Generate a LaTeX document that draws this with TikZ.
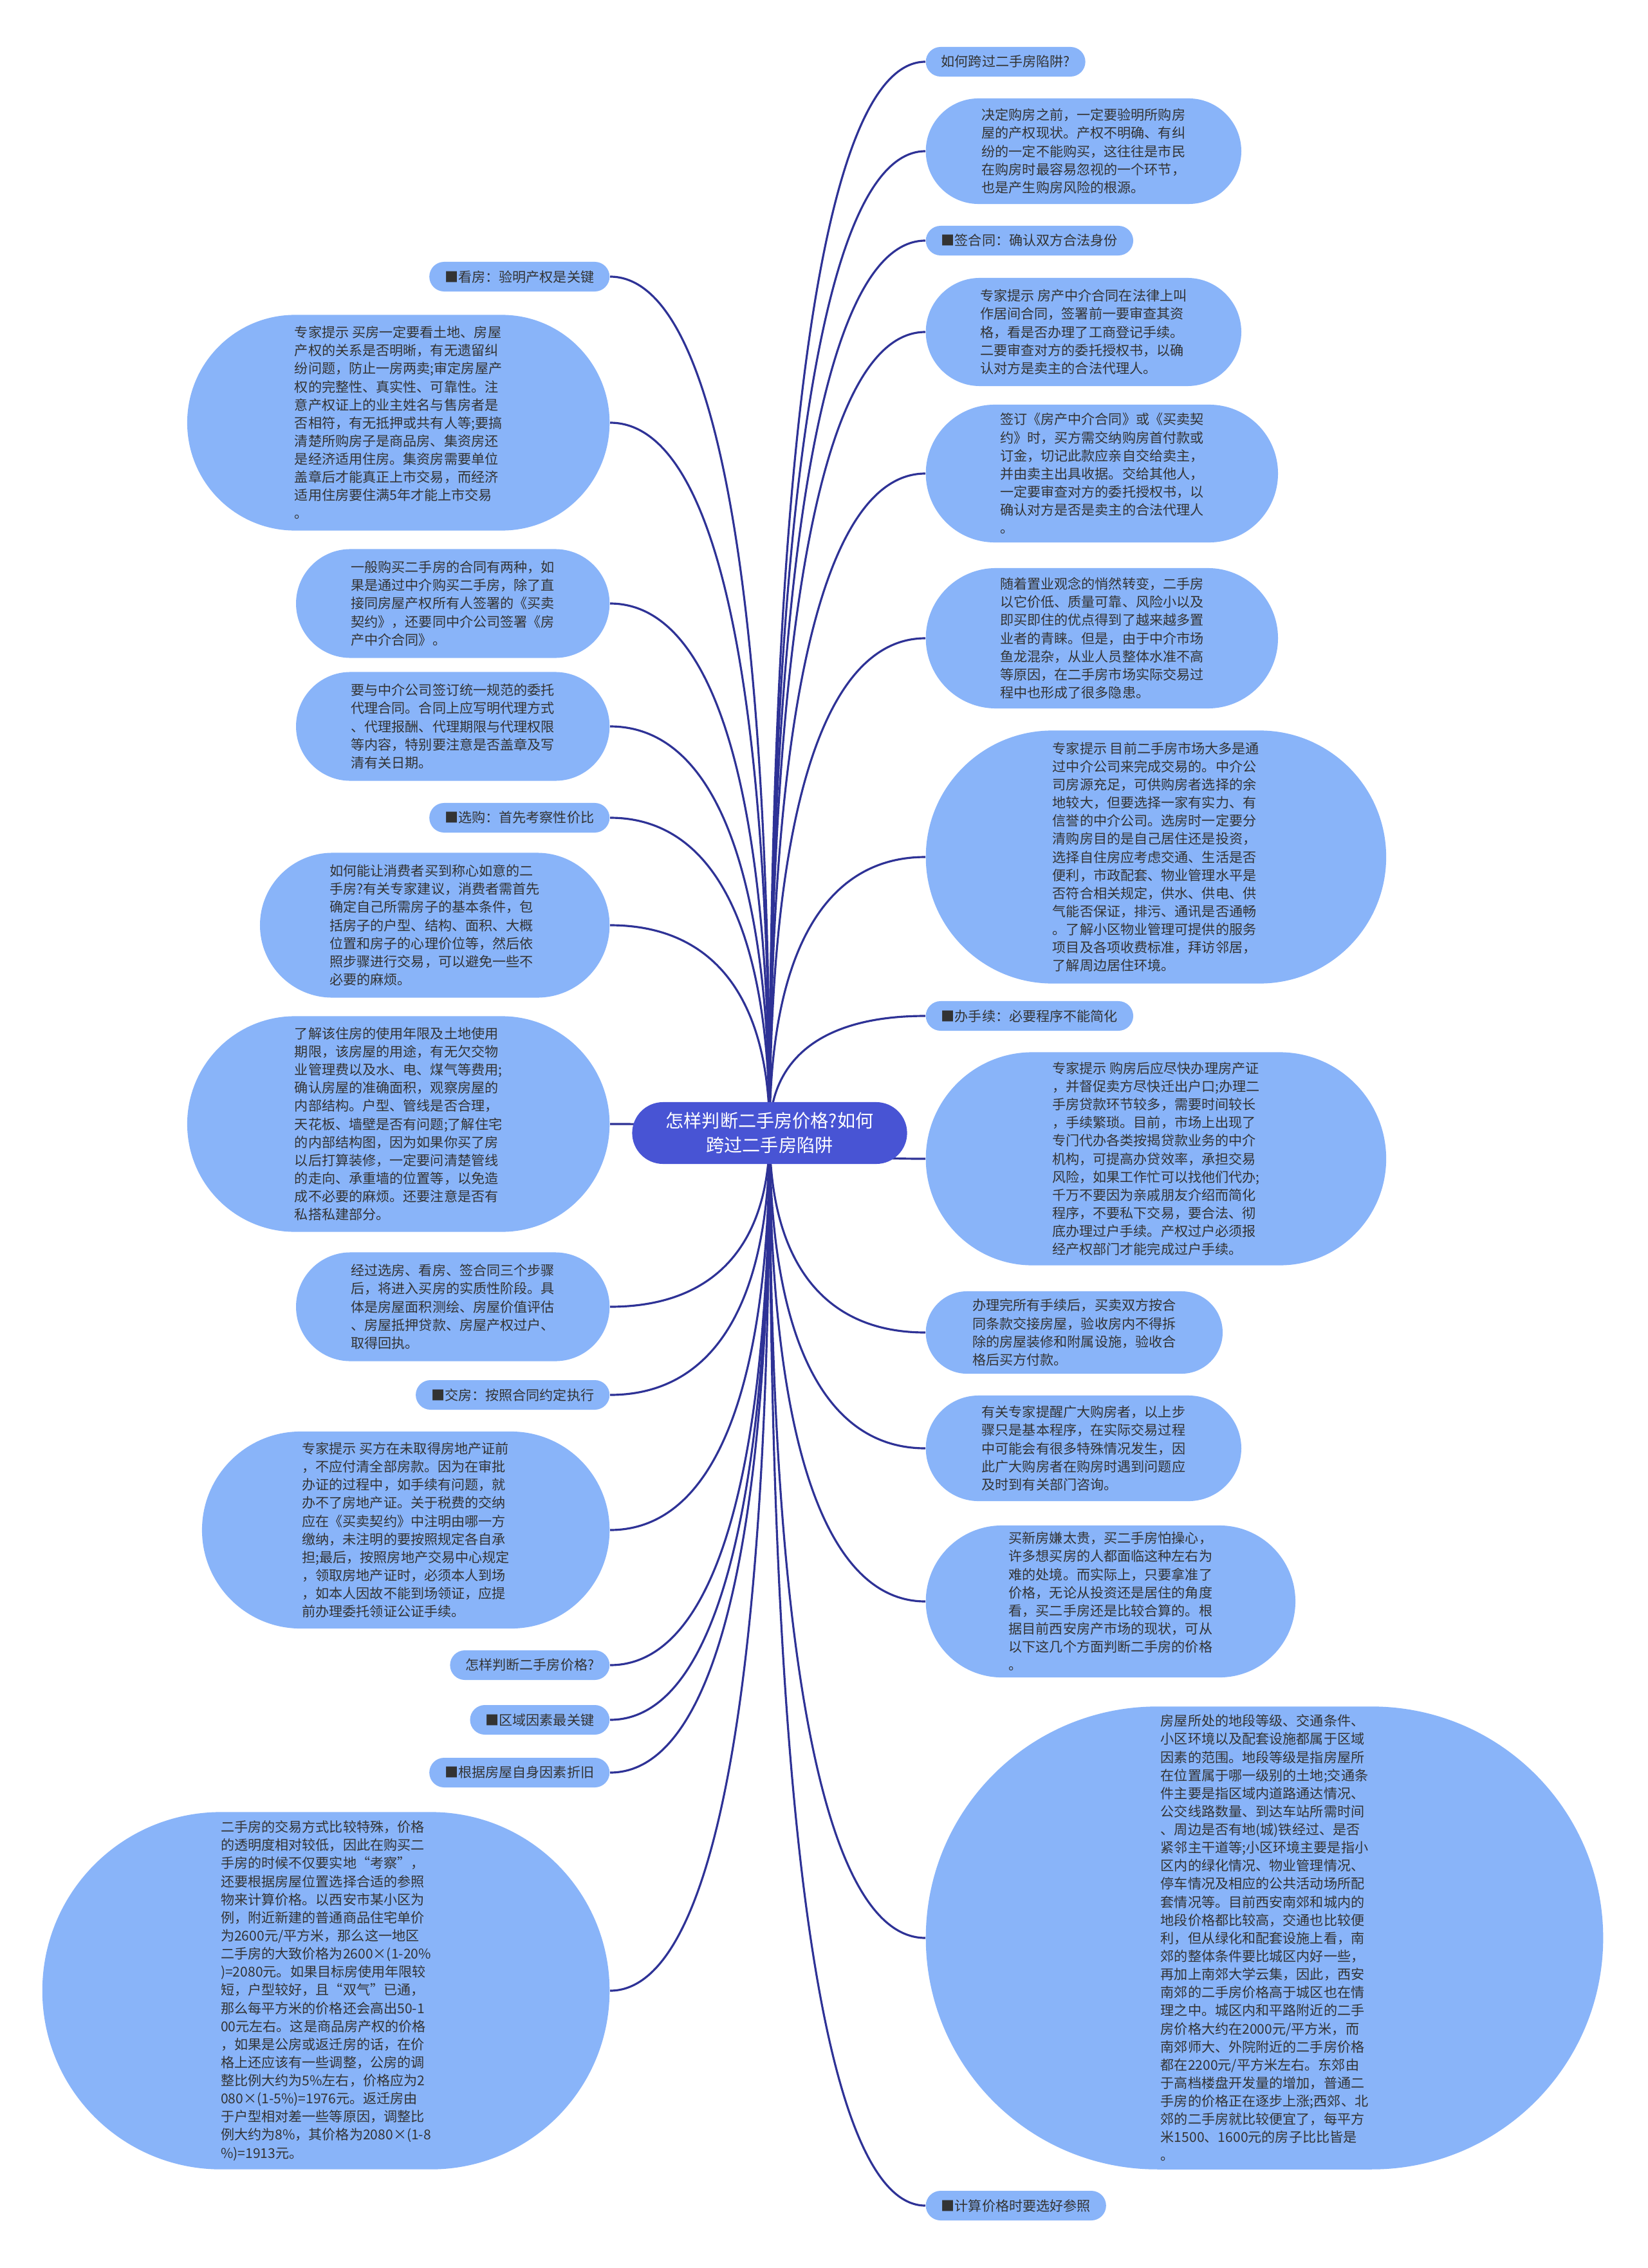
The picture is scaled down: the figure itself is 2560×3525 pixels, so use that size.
\documentclass[tikz,border=0pt]{standalone}
\usepackage{fontspec}
\setmainfont{Noto Sans CJK SC}
\usetikzlibrary{calc}

\definecolor{leafblue}{RGB}{137,180,249}
\definecolor{rootblue}{RGB}{72,84,212}
\definecolor{linkblue}{RGB}{46,50,150}
\definecolor{inkgray}{RGB}{51,51,51}

\pgfdeclarelayer{bg}
\pgfsetlayers{bg,main}

\tikzset{
  leaf/.style={fill=leafblue, text=inkgray, font=\fontsize{6pt}{8pt}\selectfont, align=left, inner sep=0pt},
  tag/.style={leaf, inner xsep=0.24cm, minimum height=0.46cm, rounded corners=0.23cm},
  blob/.style 2 args={leaf, minimum width=#1cm, minimum height=#2cm, rounded corners=#2cm/2},
  link/.style={draw=linkblue, line width=0.9pt},
}

\begin{document}
\begin{tikzpicture}[x=0.01cm, y=-0.01cm]

    \useasboundingbox (0,0) rectangle (2560,3525);

    \node[fill=rootblue, text=white, font=\fontsize{8pt}{10.8pt}\selectfont, align=center,
          minimum width=4.27cm, minimum height=0.96cm, rounded corners=0.48cm]
        (root) at (1196,1761) {怎样判断二手房价格?如何\\跨过二手房陷阱};

    % right side
    \node[tag, anchor=west] (r1) at (1438,96) {如何跨过二手房陷阱?};
    \node[blob={4.90}{1.64}, anchor=west] (r2) at (1438,235)
        {决定购房之前，一定要验明所购房\\屋的产权现状。产权不明确、有纠\\纷的一定不能购买，这往往是市民\\在购房时最容易忽视的一个环节，\\也是产生购房风险的根源。};
    \node[tag, anchor=west] (r3) at (1438,374) {■签合同：确认双方合法身份};
    \node[blob={4.90}{1.68}, anchor=west] (r4) at (1438,516)
        {专家提示 房产中介合同在法律上叫\\作居间合同，签署前一要审查其资\\格，看是否办理了工商登记手续。\\二要审查对方的委托授权书，以确\\认对方是卖主的合法代理人。};
    \node[blob={5.47}{2.14}, anchor=west] (r5) at (1438,736)
        {签订《房产中介合同》或《买卖契\\约》时，买方需交纳购房首付款或\\订金，切记此款应亲自交给卖主，\\并由卖主出具收据。交给其他人，\\一定要审查对方的委托授权书，以\\确认对方是否是卖主的合法代理人\\。};
    \node[blob={5.47}{2.18}, anchor=west] (r6) at (1438,992)
        {随着置业观念的悄然转变，二手房\\以它价低、质量可靠、风险小以及\\即买即住的优点得到了越来越多置\\业者的青睐。但是，由于中介市场\\鱼龙混杂，从业人员整体水准不高\\等原因，在二手房市场实际交易过\\程中也形成了很多隐患。};
    \node[blob={7.15}{3.93}, anchor=west] (r7) at (1438,1332)
        {专家提示 目前二手房市场大多是通\\过中介公司来完成交易的。中介公\\司房源充足，可供购房者选择的余\\地较大，但要选择一家有实力、有\\信誉的中介公司。选房时一定要分\\清购房目的是自己居住还是投资，\\选择自住房应考虑交通、生活是否\\便利，市政配套、物业管理水平是\\否符合相关规定，供水、供电、供\\气能否保证，排污、通讯是否通畅\\。了解小区物业管理可提供的服务\\项目及各项收费标准，拜访邻居，\\了解周边居住环境。};
    \node[tag, anchor=west] (r8) at (1438,1579) {■办手续：必要程序不能简化};
    \node[blob={7.15}{3.31}, anchor=west] (r9) at (1438,1801)
        {专家提示 购房后应尽快办理房产证\\，并督促卖方尽快迁出户口;办理二\\手房贷款环节较多，需要时间较长\\，手续繁琐。目前，市场上出现了\\专门代办各类按揭贷款业务的中介\\机构，可提高办贷效率，承担交易\\风险，如果工作忙可以找他们代办;\\千万不要因为亲戚朋友介绍而简化\\程序，不要私下交易，要合法、彻\\底办理过户手续。产权过户必须报\\经产权部门才能完成过户手续。};
    \node[blob={4.61}{1.28}, anchor=west] (r10) at (1438,2071)
        {办理完所有手续后，买卖双方按合\\同条款交接房屋，验收房内不得拆\\除的房屋装修和附属设施，验收合\\格后买方付款。};
    \node[blob={4.90}{1.64}, anchor=west] (r11) at (1438,2251)
        {有关专家提醒广大购房者，以上步\\骤只是基本程序，在实际交易过程\\中可能会有很多特殊情况发生，因\\此广大购房者在购房时遇到问题应\\及时到有关部门咨询。};
    \node[blob={5.74}{2.36}, anchor=west] (r12) at (1438,2489)
        {买新房嫌太贵，买二手房怕操心，\\许多想买房的人都面临这种左右为\\难的处境。而实际上，只要拿准了\\价格，无论从投资还是居住的角度\\看，买二手房还是比较合算的。根\\据目前西安房产市场的现状，可从\\以下这几个方面判断二手房的价格\\。};
    \node[blob={10.52}{7.19}, anchor=west] (r13) at (1438,3012)
        {房屋所处的地段等级、交通条件、\\小区环境以及配套设施都属于区域\\因素的范围。地段等级是指房屋所\\在位置属于哪一级别的土地;交通条\\件主要是指区域内道路通达情况、\\公交线路数量、到达车站所需时间\\、周边是否有地(城)铁经过、是否\\紧邻主干道等;小区环境主要是指小\\区内的绿化情况、物业管理情况、\\停车情况及相应的公共活动场所配\\套情况等。目前西安南郊和城内的\\地段价格都比较高，交通也比较便\\利，但从绿化和配套设施上看，南\\郊的整体条件要比城区内好一些，\\再加上南郊大学云集，因此，西安\\南郊的二手房价格高于城区也在情\\理之中。城区内和平路附近的二手\\房价格大约在2000元/平方米，而\\南郊师大、外院附近的二手房价格\\都在2200元/平方米左右。东郊由\\于高档楼盘开发量的增加，普通二\\手房的价格正在逐步上涨;西郊、北\\郊的二手房就比较便宜了，每平方\\米1500、1600元的房子比比皆是\\。};
    \node[tag, anchor=west] (r14) at (1438,3428) {■计算价格时要选好参照};

    % left side
    \node[tag, anchor=east] (l1) at (948,430) {■看房：验明产权是关键};
    \node[blob={6.56}{3.35}, anchor=east] (l2) at (948,657)
        {专家提示 买房一定要看土地、房屋\\产权的关系是否明晰，有无遗留纠\\纷问题，防止一房两卖;审定房屋产\\权的完整性、真实性、可靠性。注\\意产权证上的业主姓名与售房者是\\否相符，有无抵押或共有人等;要搞\\清楚所购房子是商品房、集资房还\\是经济适用住房。集资房需要单位\\盖章后才能真正上市交易，而经济\\适用住房要住满5年才能上市交易\\。};
    \node[blob={4.87}{1.69}, anchor=east] (l3) at (948,938)
        {一般购买二手房的合同有两种，如\\果是通过中介购买二手房，除了直\\接同房屋产权所有人签署的《买卖\\契约》，还要同中介公司签署《房\\产中介合同》。};
    \node[blob={4.87}{1.69}, anchor=east] (l4) at (948,1129)
        {要与中介公司签订统一规范的委托\\代理合同。合同上应写明代理方式\\、代理报酬、代理期限与代理权限\\等内容，特别要注意是否盖章及写\\清有关日期。};
    \node[tag, anchor=east] (l5) at (948,1271) {■选购：首先考察性价比};
    \node[blob={5.43}{2.25}, anchor=east] (l6) at (948,1438)
        {如何能让消费者买到称心如意的二\\手房?有关专家建议，消费者需首先\\确定自己所需房子的基本条件，包\\括房子的户型、结构、面积、大概\\位置和房子的心理价位等，然后依\\照步骤进行交易，可以避免一些不\\必要的麻烦。};
    \node[blob={6.56}{3.35}, anchor=east] (l7) at (948,1747)
        {了解该住房的使用年限及土地使用\\期限，该房屋的用途，有无欠交物\\业管理费以及水、电、煤气等费用;\\确认房屋的准确面积，观察房屋的\\内部结构。户型、管线是否合理，\\天花板、墙壁是否有问题;了解住宅\\的内部结构图，因为如果你买了房\\以后打算装修，一定要问清楚管线\\的走向、承重墙的位置等，以免造\\成不必要的麻烦。还要注意是否有\\私搭私建部分。};
    \node[blob={4.87}{1.69}, anchor=east] (l8) at (948,2031)
        {经过选房、看房、签合同三个步骤\\后，将进入买房的实质性阶段。具\\体是房屋面积测绘、房屋价值评估\\、房屋抵押贷款、房屋产权过户、\\取得回执。};
    \node[tag, anchor=east] (l9) at (948,2168) {■交房：按照合同约定执行};
    \node[blob={6.33}{3.06}, anchor=east] (l10) at (948,2378)
        {专家提示 买方在未取得房地产证前\\，不应付清全部房款。因为在审批\\办证的过程中，如手续有问题，就\\办不了房地产证。关于税费的交纳\\应在《买卖契约》中注明由哪一方\\缴纳，未注明的要按照规定各自承\\担;最后，按照房地产交易中心规定\\，领取房地产证时，必须本人到场\\，如本人因故不能到场领证，应提\\前办理委托领证公证手续。};
    \node[tag, anchor=east] (l11) at (948,2588) {怎样判断二手房价格?};
    \node[tag, anchor=east] (l12) at (948,2673) {■区域因素最关键};
    \node[tag, anchor=east] (l13) at (948,2755) {■根据房屋自身因素折旧};
    \node[blob={8.81}{5.55}, anchor=east] (l14) at (948,3094)
        {二手房的交易方式比较特殊，价格\\的透明度相对较低，因此在购买二\\手房的时候不仅要实地“考察”，\\还要根据房屋位置选择合适的参照\\物来计算价格。以西安市某小区为\\例，附近新建的普通商品住宅单价\\为2600元/平方米，那么这一地区\\二手房的大致价格为2600×(1-20\%\\)=2080元。如果目标房使用年限较\\短，户型较好，且“双气”已通，\\那么每平方米的价格还会高出50-1\\00元左右。这是商品房产权的价格\\，如果是公房或返迁房的话，在价\\格上还应该有一些调整，公房的调\\整比例大约为5\%左右，价格应为2\\080×(1-5\%)=1976元。返迁房由\\于户型相对差一些等原因，调整比\\例大约为8\%，其价格为2080×(1-8\\\%)=1913元。};

    % links under the nodes
    \begin{pgfonlayer}{bg}
    \fill[white] (0,0) rectangle (2560,3525);
    \foreach \i in {1,...,14}
    {
        \draw[link] (root.center)
            .. controls ($(root.center)!0.65!(root.center |- r\i.west)$)
            and ($(r\i.west)!0.65!(root.center |- r\i.west)$) .. (r\i.west);
        \draw[link] (root.center)
            .. controls ($(root.center)!0.65!(root.center |- l\i.east)$)
            and ($(l\i.east)!0.65!(root.center |- l\i.east)$) .. (l\i.east);
    }
    \end{pgfonlayer}

\end{tikzpicture}
\end{document}
